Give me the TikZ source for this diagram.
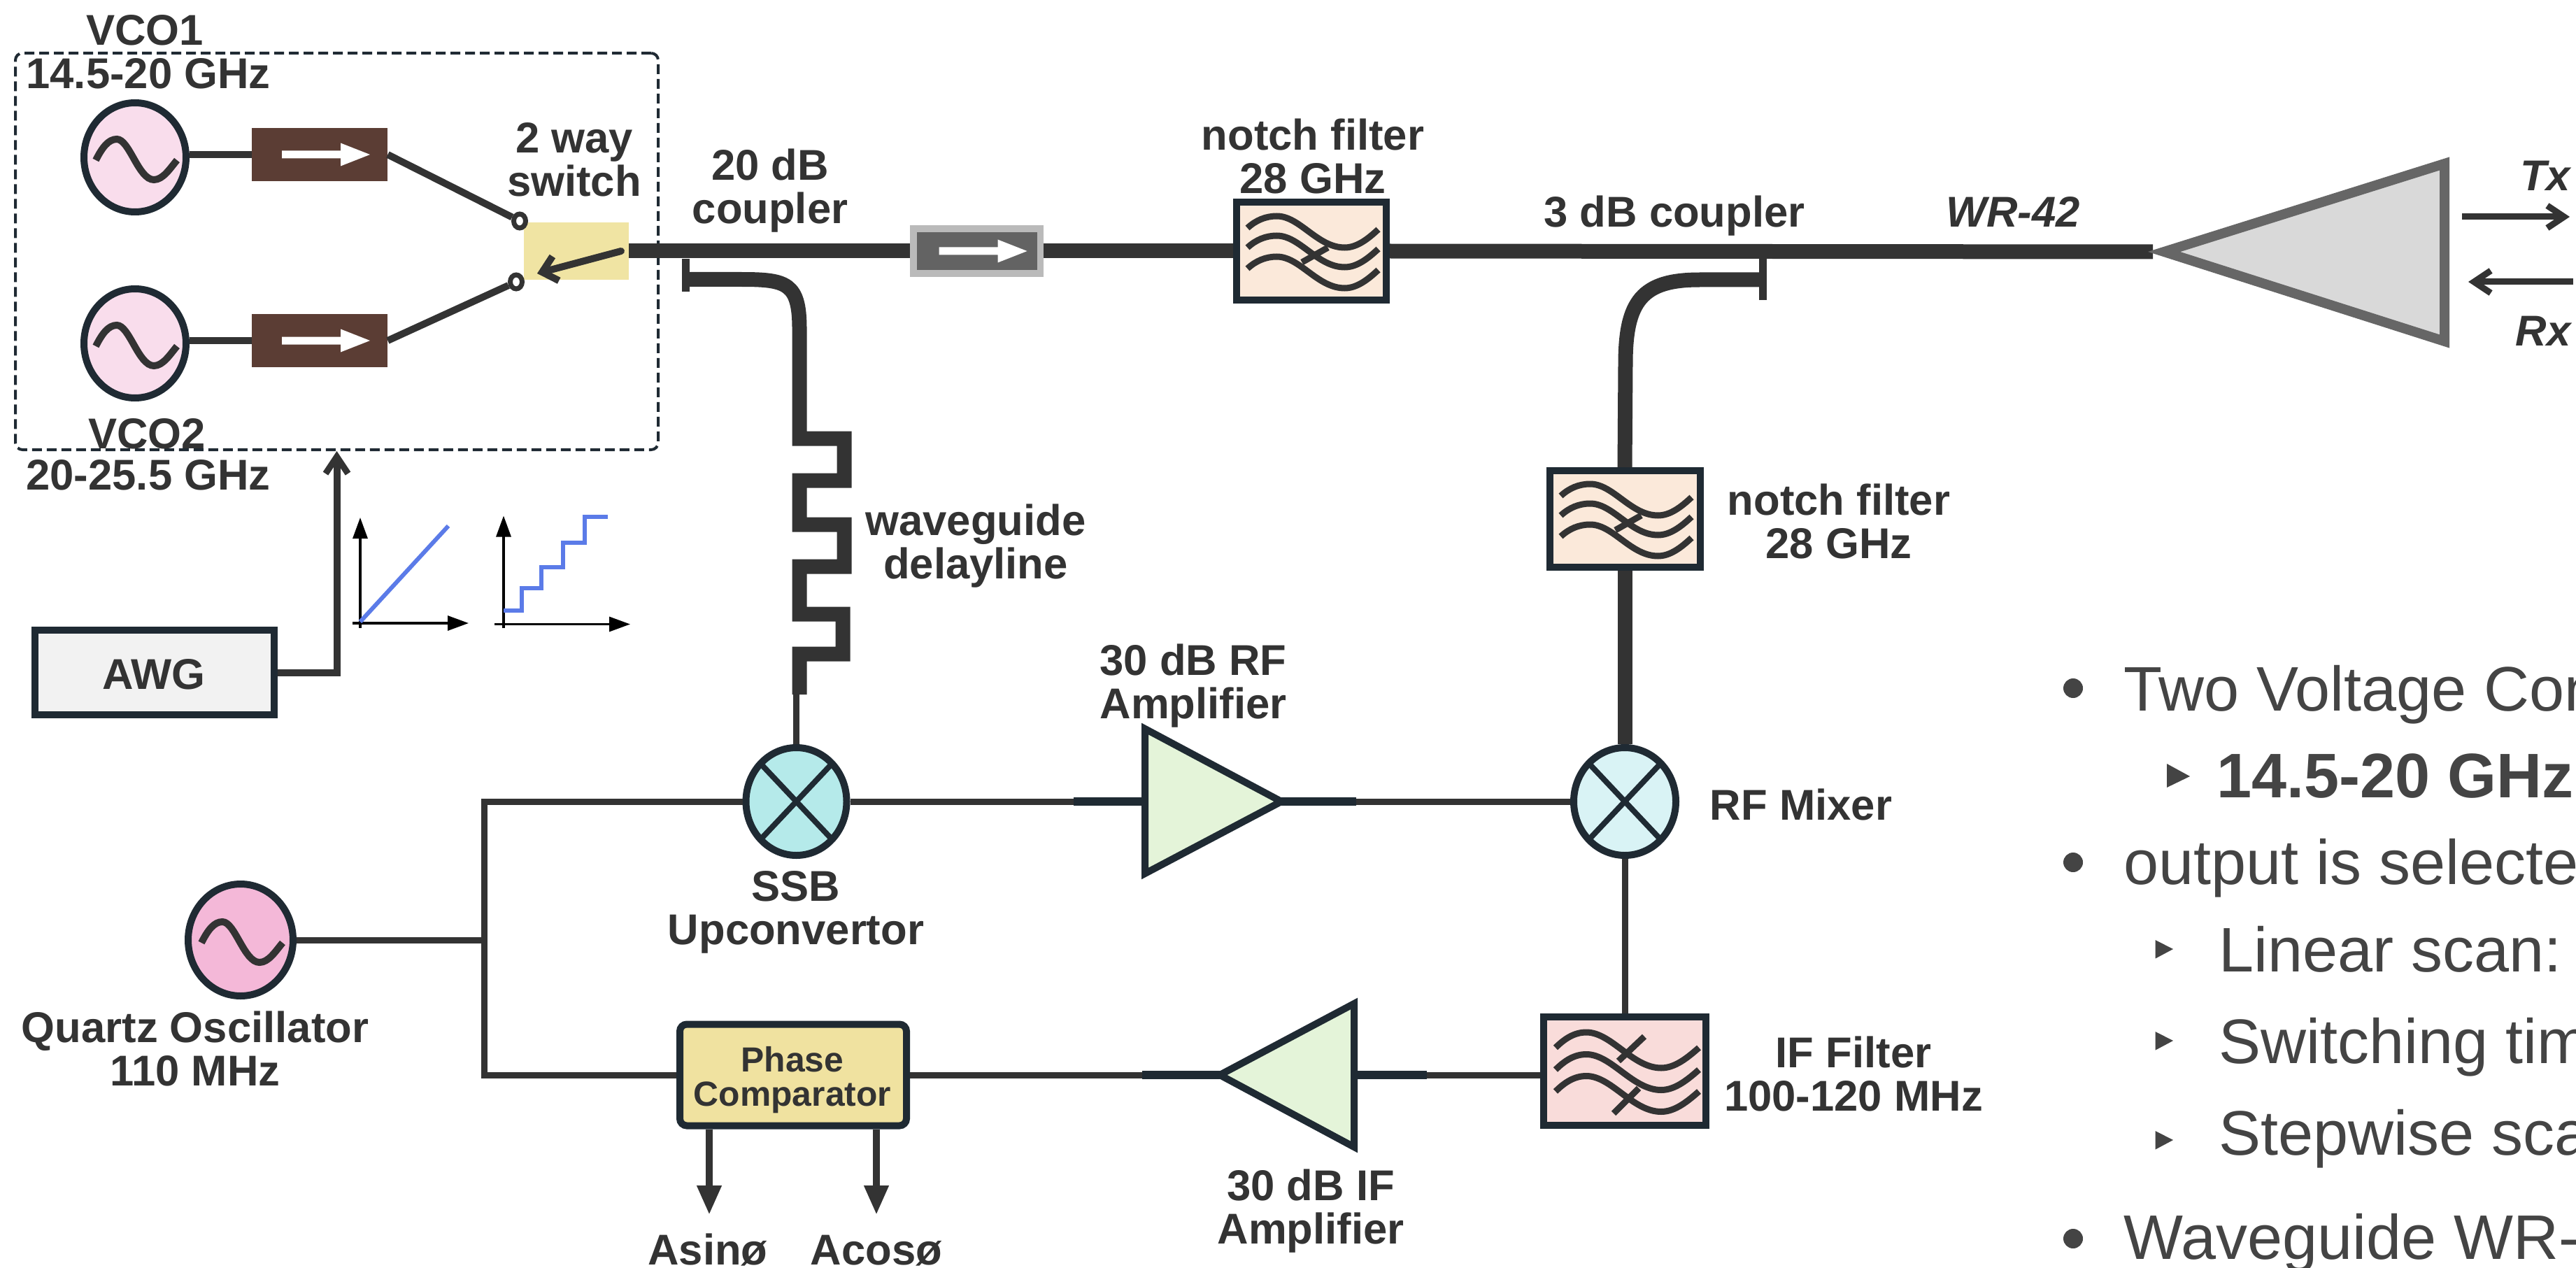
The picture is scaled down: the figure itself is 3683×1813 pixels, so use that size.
\documentclass[tikz,border=0pt]{standalone}
\usepackage{fontspec}
\setmainfont{Liberation Sans}
\usetikzlibrary{arrows.meta,shapes.geometric,calc}
\definecolor{ink}{HTML}{333333}
\definecolor{edgec}{HTML}{1F2A33}
\definecolor{bodytxt}{HTML}{444444}
\definecolor{vcofill}{HTML}{F9DDEC}
\definecolor{quartzfill}{HTML}{F4B8D8}
\definecolor{isobrown}{HTML}{5B3D34}
\definecolor{switchfill}{HTML}{F0E4A3}
\definecolor{phasefill}{HTML}{F0E2A0}
\definecolor{notchfill}{HTML}{FBE9DA}
\definecolor{iffill}{HTML}{F9DCDA}
\definecolor{ssbfill}{HTML}{B5EAEA}
\definecolor{rffill}{HTML}{D9F3F5}
\definecolor{ampfill}{HTML}{E4F4D9}
\definecolor{blueline}{HTML}{5B7BE8}
\tikzset{
  size/.style 2 args={minimum width=#1*0.5pt,minimum height=#2*0.5pt,inner sep=0pt},
  lbl/.style={anchor=base,inner sep=0pt,align=center,text=ink,font=\fontsize{30.8}{31}\selectfont\bfseries},
  lblit/.style={lbl,font=\fontsize{30.8}{31}\selectfont\bfseries\itshape},
  lblsm/.style={lbl,font=\fontsize{24.9}{24.5}\selectfont\bfseries},
  bodyline/.style={anchor=base west,inner sep=0pt,text=bodytxt,font=\fontsize{45}{54}\selectfont},
  thinw/.style={draw=ink,line width=4.5pt},
  medw/.style={draw=ink,line width=5pt},
  stub/.style={draw=edgec,line width=6pt},
  guide/.style={draw=ink,line width=10.5pt},
  tickw/.style={draw=ink,line width=5.5pt},
  osc/.style={ellipse,draw=edgec,line width=5pt},
  mixer/.style={ellipse,draw=edgec,line width=5pt},
  filt/.style={rectangle,draw=edgec,line width=5pt},
  wavestroke/.style={draw=ink,line width=4.5pt},
  amp/.style={draw=edgec,fill=ampfill,line width=5pt},
  axisline/.style={draw=black,line width=1.6pt,-{Triangle[length=15pt,width=10.5pt]}},
  bar/.style={-{Straight Barb[length=12pt,width=16pt,line width=4.5pt]}},
  outp/.style={draw=ink,line width=5pt,-{Triangle[length=21pt,width=16.5pt]}},
  term/.style={ellipse,draw=ink,fill=white,line width=3.5pt,size={17}{20}}
}
\newcommand{\sinewave}{\draw[draw=ink,line width=5pt] (-56,4) .. controls (-47,-14) and (-38,-26) .. (-26,-26) .. controls (-8,-26) and (5,32) .. (27,32) .. controls (40,32) and (50,16) .. (60,4);}
\newcommand{\notchwave}[1]{\draw[wavestroke,shift={(-91.5,#1)}] (0,0) .. controls (12,-11) and (26,-17) .. (42,-17) .. controls (75,-17) and (100,28) .. (139,28) .. controls (157,28) and (173,15) .. (187,2);}
\newcommand{\notchicon}{\notchwave{-33}\notchwave{-5}\notchwave{25}\draw[wavestroke] (-13.5,16) -- (23.5,-5);}
\newcommand{\ifwave}[1]{\draw[wavestroke,shift={(-99,#1)}] (0,0) .. controls (13,-13) and (27,-22) .. (44,-22) .. controls (80,-22) and (110,29) .. (151,29) .. controls (171,29) and (189,14) .. (205,0);}
\newcommand{\whitearrow}{\fill[white] (-54,-5.5) -- (30,-5.5) -- (30,-16.5) -- (72,0) -- (30,16.5) -- (30,5.5) -- (-54,5.5) -- cycle;}
\newcommand{\crossx}{\draw[draw=edgec,line width=4pt] (-49,-52) -- (49,52) (-49,52) -- (49,-52);}
\begin{document}
\begin{tikzpicture}[x=0.5pt,y=-0.5pt]
\useasboundingbox (0,0) rectangle (3683,1813);
\clip (0,0) rectangle (3683,1813);
\fill[white] (0,0) rectangle (3683,1813);

% ---- named coordinates
\coordinate (junc) at (692,1344);
\coordinate (cpa) at (980,399.5);
\coordinate (cpb) at (2520,400);
\coordinate (horntip) at (3078,360);
\coordinate (dlend) at (1143,993);
\coordinate (rfin) at (1637,1146);
\coordinate (rftip) at (1830,1146);
\coordinate (rfstubl) at (1535,1146);
\coordinate (rfstubr) at (1939,1146);
\coordinate (iftip) at (1745,1537);
\coordinate (ifin) at (1936,1537);
\coordinate (ifstubl) at (1633,1537);
\coordinate (ifstubr) at (2040,1537);
\coordinate (asintip) at (1014,1737);
\coordinate (acostip) at (1253,1737);
\coordinate (txa) at (3520,310);
\coordinate (txb) at (3674,310);
\coordinate (rxa) at (3679,403);
\coordinate (rxb) at (3529,403);

% ---- VCO section
\node[draw=edgec,line width=2pt,dash pattern=on 7pt off 3.5pt,rounded corners=5pt,size={919}{567}] (vcobox) at (481.5,359.5) {};
\node[osc,fill=vcofill,size={146}{156}] (vcoa) at (193,225) {};
\node[osc,fill=vcofill,size={146}{156}] (vcob) at (193,491) {};
\node[fill=isobrown,size={194}{76}] (isoa) at (457,221) {};
\node[fill=isobrown,size={194}{76}] (isob) at (457,487) {};
\node[fill=switchfill,size={150}{82}] (sw) at (824,359) {};
\node[term] (terma) at (743,316) {};
\node[term] (termb) at (738,403) {};
\coordinate (swa) at (888,359);
\coordinate (swb) at (768,391);
\begin{scope}[shift={(vcoa.center)}]\sinewave\end{scope}
\begin{scope}[shift={(vcob.center)}]\sinewave\end{scope}
\begin{scope}[shift={(isoa.center)}]\whitearrow\end{scope}
\begin{scope}[shift={(isob.center)}]\whitearrow\end{scope}
\draw[medw] (vcoa.east |- isoa.center) -- (isoa.west);
\draw[medw] (vcob.east |- isob.center) -- (isob.west);
\draw[medw] (isoa.east) -- (terma);
\draw[medw] (isob.east) -- (termb);
\draw[medw,line cap=round,-{Straight Barb[length=10pt,width=18pt,line width=5pt]}] (swa) -- (swb);

% ---- main waveguide
\node[fill=black!27,size={191}{74}] (gisoout) at (1396.5,359) {};
\node[fill=black!61,size={172}{54}] (giso) at (1396.5,359) {};
\begin{scope}[shift={(giso.center)}]\whitearrow\end{scope}
\node[filt,fill=notchfill,size={214}{140}] (notcha) at (1875,359) {};
\begin{scope}[shift={(notcha.center)}]\notchicon\end{scope}
\draw[guide] (sw.east) -- (gisoout.west);
\draw[guide] (gisoout.east) -- (notcha.west);
\draw[guide] (notcha.east) -- (horntip);
\draw[draw=black!60,fill=black!15,line width=7pt] (3094,360) -- (3495,234) -- (3495,488) -- cycle;

% ---- couplers and delay line
\draw[tickw] (980,370) -- (980,417);
\draw[guide] (cpa) -- (1060,399.5) .. controls (1125,399.5) and (1143,405) .. (1143,470)
  -- (1143,627) -- (1207,627) -- (1207,687) -- (1143,687) -- (1143,750) -- (1207,750)
  -- (1207,810) -- (1143,810) -- (1143,878) -- (1205,878) -- (1205,935) -- (1143,935) -- (dlend);
\draw[tickw] (2520,370) -- (2520,429);
\node[filt,fill=notchfill,size={215}{138}] (notchb) at (2323,742) {};
\begin{scope}[shift={(notchb.center)}]\notchicon\end{scope}
\draw[guide] (cpb) -- (2430,400) .. controls (2348,400) and (2324,430) .. (2324,520) -- (notchb.north);

% ---- mixers, amplifiers, filters
\node[mixer,fill=ssbfill,size={144}{154}] (ssb) at (1138.5,1146) {};
\node[mixer,fill=rffill,size={146}{154}] (rfmix) at (2323,1146) {};
\begin{scope}[shift={(ssb.center)}]\crossx\end{scope}
\begin{scope}[shift={(rfmix.center)}]\crossx\end{scope}
\node[filt,fill=iffill,size={232}{155}] (ifilt) at (2323,1531.5) {};
\begin{scope}[shift={(ifilt.center)}]
  \ifwave{-33.5}\ifwave{-2}\ifwave{29}
  \draw[wavestroke] (-9,-14.5) -- (28,-49.5) (-16,60.5) -- (20,24.5);
\end{scope}
\node[filt,fill=phasefill,rounded corners=5pt,size={324}{145}] (phase) at (1134,1537) {};
\node[osc,fill=quartzfill,size={150}{160}] (qo) at (344,1344) {};
\begin{scope}[shift={(qo.center)}]\sinewave\end{scope}
\node[filt,fill=black!5,size={342}{121}] (awg) at (221,961.5) {};

\draw[thinw] (ssb.north |- dlend) -- (ssb.north);
\draw[guide] (notchb.south) -- (rfmix.north);
\draw[thinw] (rfmix.south) -- (ifilt.north);
\draw[thinw] (ssb.east) -- (rfstubl);
\draw[stub] (rfstubl) -- (rfin);
\draw[stub] (rftip) -- (rfstubr);
\draw[thinw] (rfstubr) -- (rfmix.west);
\draw[amp] (1637,1042) -- (1832,1146) -- (1637,1249) -- cycle;
\draw[thinw] (ifilt.west |- ifstubr) -- (ifstubr);
\draw[stub] (ifstubr) -- (ifin);
\draw[stub] (iftip) -- (ifstubl);
\draw[thinw] (ifstubl) -- (phase.east);
\draw[amp] (1744,1537) -- (1936,1435) -- (1936,1640) -- cycle;
\draw[thinw] (qo.east) -- (junc);
\draw[thinw] (ssb.west) -| (junc) |- (phase.west);
\draw[outp] (phase.south -| asintip) -- (asintip);
\draw[outp] (phase.south -| acostip) -- (acostip);
\draw[medw,bar] (awg.east) -| (vcobox.south);
\draw[thinw,bar] (txa) -- (txb);
\draw[thinw,bar] (rxa) -- (rxb);

% ---- scan sketches
\draw[axisline] (515,898) -- (515,740);
\draw[axisline] (504,891) -- (670,891);
\draw[draw=blueline,line width=3pt] (515,889) -- (641,752);
\draw[axisline] (720,898) -- (720,737.5);
\draw[axisline] (707,892.5) -- (901,892.5);
\draw[draw=blueline,line width=3pt] (720,873) -- (746,873) -- (746,841) -- (774,841) -- (774,811) -- (805,811) -- (805,776) -- (835.5,776) -- (835.5,739) -- (869,739);

% ---- labels (a two-line label is placed by the baseline of its last line)
\node[lbl] (tvcoa) at (207,65) {VCO1};
\node[lbl] (tvcoar) at (212,127) {14.5-20 GHz};
\node[lbl] (tsw) at (821,281) {2 way\\switch};
\node[lbl] (tvcob) at (210,641) {VCO2};
\node[lbl] (tvcobr) at (212,700) {20-25.5 GHz};
\node[lbl] (tcpa) at (1101,320) {20 dB\\coupler};
\node[lbl] (tna) at (1877,277) {notch filter\\28 GHz};
\node[lbl] (tcpb) at (2394,325) {3 dB coupler};
\node[lblit] (twr) at (2878,325) {WR-42};
\node[lblit] (ttx) at (3639,273) {Tx};
\node[lblit] (trx) at (3636,494.5) {Rx};
\node[lbl] (tnb) at (2629,798) {notch filter\\28 GHz};
\node[lbl] (tdl) at (1395,827) {waveguide\\delayline};
\node[lbl] (tawg) at (220,985) {AWG};
\node[lbl] (trfa) at (1706,1027) {30 dB RF\\Amplifier};
\node[lbl] (tssb) at (1138,1350) {SSB\\Upconvertor};
\node[lbl] (trfm) at (2575,1172) {RF Mixer};
\node[lbl] (tqo) at (279,1552) {Quartz Oscillator\\110 MHz};
\node[lbl] (tif) at (2650,1588) {IF Filter\\100-120 MHz};
\node[lblsm] (tphase) at (1133,1581) {Phase\\Comparator};
\node[lbl] (tifa) at (1874,1778) {30 dB IF\\Amplifier};
\node[lbl] (tasin) at (1012,1808.5) {Asinø};
\node[lbl] (tacos) at (1253,1808.5) {Acosø};

% ---- bullet text (runs off the page as in the reference)
\fill[bodytxt] (2964,984) circle[radius=14];
\fill[bodytxt] (2964,1233) circle[radius=14];
\fill[bodytxt] (2964,1771) circle[radius=14];
\fill[bodytxt] (3098,1092) -- (3131,1110) -- (3098,1126) -- cycle;
\fill[bodytxt] (3081.5,1344) -- (3107,1357) -- (3081.5,1370.6) -- cycle;
\fill[bodytxt] (3081.5,1475) -- (3107,1488) -- (3081.5,1501.6) -- cycle;
\fill[bodytxt] (3081.5,1617) -- (3107,1630) -- (3081.5,1643.6) -- cycle;
\node[bodyline] (ba) at (3036,1016.5) {Two Voltage Con};
\node[bodyline,font=\fontsize{45}{54}\selectfont\bfseries] (bb) at (3169,1140.5) {14.5-20 GHz,};
\node[bodyline] (bc) at (3036,1264) {output is selecte};
\node[bodyline] (bd) at (3172,1389) {Linear scan:};
\node[bodyline] (be) at (3172,1520) {Switching tim};
\node[bodyline] (bf) at (3172,1651) {Stepwise sca};
\node[bodyline] (bg) at (3036,1800) {Waveguide WR-};
\end{tikzpicture}
\end{document}
